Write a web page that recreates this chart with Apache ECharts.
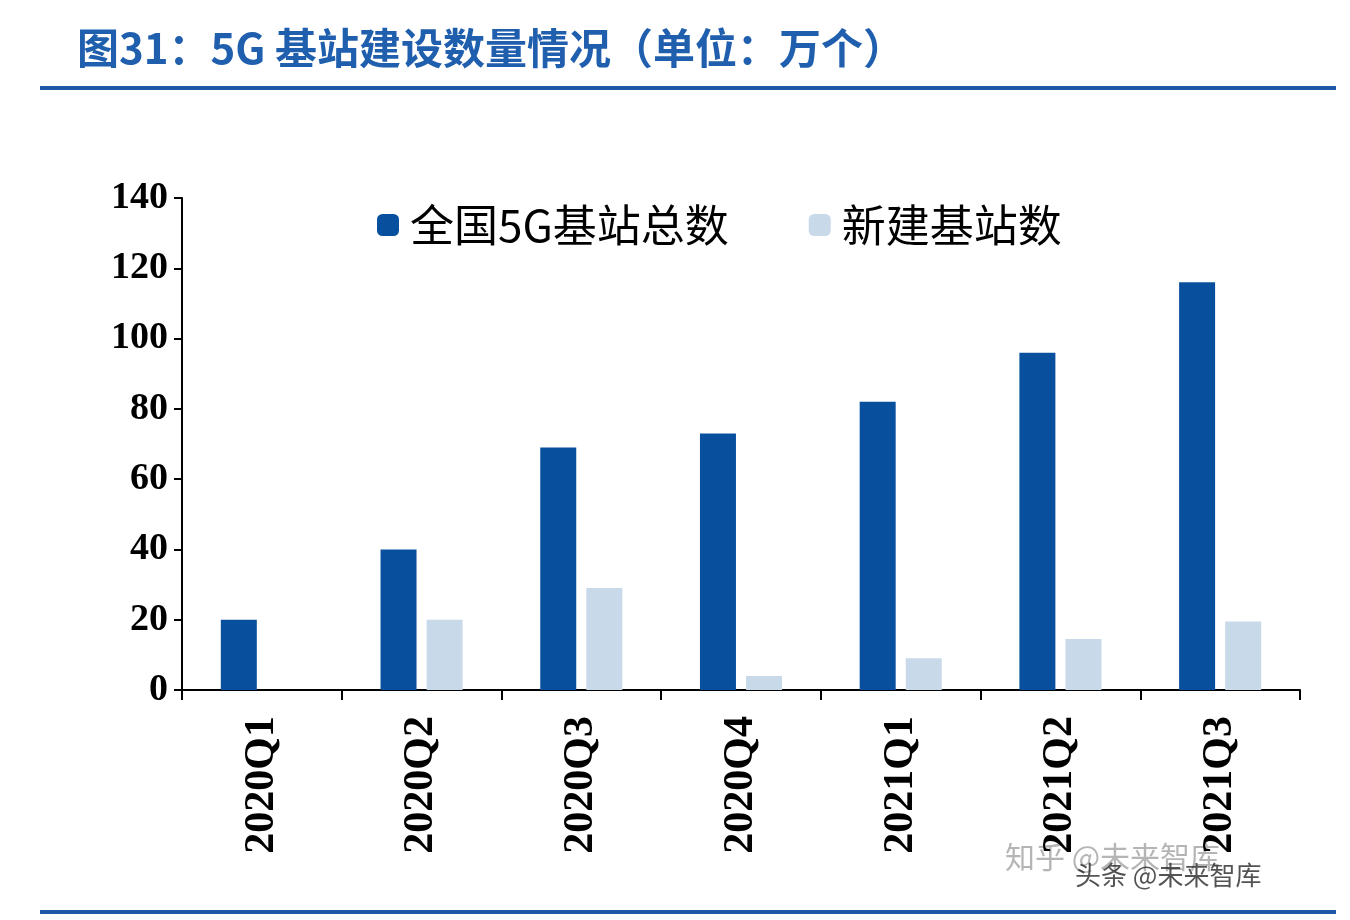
<!DOCTYPE html>
<html><head><meta charset="utf-8">
<script src="https://cdn.jsdelivr.net/npm/echarts@6/dist/echarts.min.js"></script>
<style>body{margin:0;background:#fff}#c{width:1350px;height:920px}</style>
</head><body><div id="c"></div>
<script>
const categories = ["2020Q1", "2020Q2", "2020Q3", "2020Q4", "2021Q1", "2021Q2", "2021Q3"];
const totalStations = [20, 40, 69, 73, 82, 96, 116];
const newStations = [null, 20, 29, 4, 9, 14.5, 19.5];
const yTicks = { min: 0, max: 140, interval: 20 };

const chart = echarts.init(document.getElementById("c"));
const serif = "'Liberation Serif', 'DejaVu Serif', serif";
chart.setOption({
  animation: false,
  title: {
    text: "图31：5G 基站建设数量情况（单位：万个）",
    left: 72, top: 22,
    textStyle: { color: "#1f5fae", fontSize: 42, fontWeight: "bold", fontFamily: "'Noto Sans CJK SC', sans-serif" }
  },
  graphic: [
    { type: "rect", shape: { x: 40, y: 86, width: 1296, height: 4 }, style: { fill: "#1f56a8" } },
    { type: "rect", shape: { x: 40, y: 910, width: 1296, height: 4 }, style: { fill: "#1f56a8" } },
    { type: "text", left: 1005, top: 842, style: { text: "知乎 @未来智库", fill: "rgba(120,120,120,0.55)", fontSize: 30, fontFamily: "'Noto Sans CJK SC'" } },
    { type: "text", left: 1075, top: 862, style: { text: "头条 @未来智库", fill: "rgba(40,40,40,0.8)", fontSize: 26, fontFamily: "'Noto Sans CJK SC'" } }
  ],
  legend: {
    left: 372, top: 198, itemWidth: 22, itemHeight: 22, itemGap: 80,
    textStyle: { fontSize: 44, color: "#000", fontFamily: "'Noto Sans CJK SC'", padding: [0, 0, 0, 6] },
    data: ["全国5G基站总数", "新建基站数"]
  },
  grid: { left: 182, right: 50, top: 198, bottom: 230 },
  xAxis: {
    type: "category", data: categories,
    axisLine: { lineStyle: { color: "#000", width: 2 } },
    axisTick: { show: true, length: 10, lineStyle: { color: "#000", width: 2 } },
    axisLabel: { rotate: 90, fontSize: 42, fontWeight: "bold", color: "#000", fontFamily: serif, margin: 26 }
  },
  yAxis: {
    type: "value", min: yTicks.min, max: yTicks.max, interval: yTicks.interval,
    splitLine: { show: false },
    axisLine: { show: true, lineStyle: { color: "#000", width: 2 } },
    axisTick: { show: true, length: 8, lineStyle: { color: "#000", width: 2 } },
    axisLabel: { fontSize: 38, fontWeight: "bold", color: "#000", fontFamily: serif, margin: 14 }
  },
  series: [
    { name: "全国5G基站总数", type: "bar", data: totalStations, barWidth: 36, barGap: "28%", itemStyle: { color: "#08509e" } },
    { name: "新建基站数", type: "bar", data: newStations, barWidth: 36, itemStyle: { color: "#c8d9ea" } }
  ]
});
</script></body></html>
